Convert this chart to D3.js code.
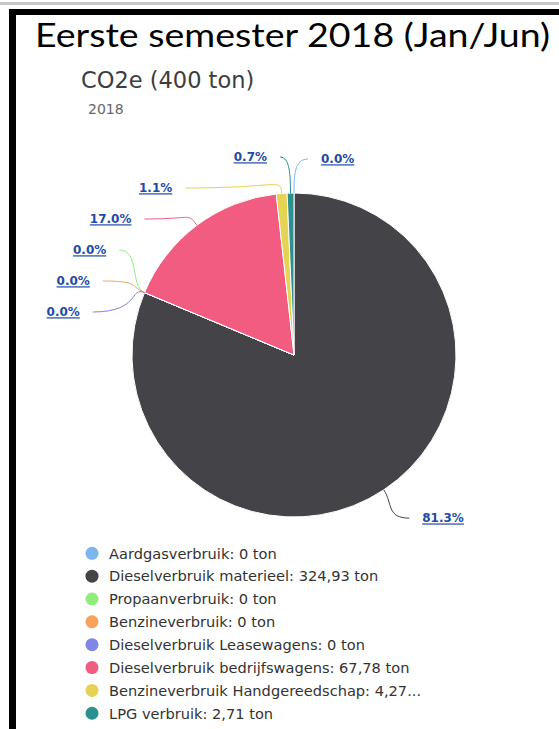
<!DOCTYPE html>
<html>
<head>
<meta charset="utf-8">
<script src="https://cdn.jsdelivr.net/npm/d3@7"></script>
<style>
  body { margin: 0; background: #fff; }
  svg { display: block; }
</style>
</head>
<body>
<svg id="chart" width="559" height="729"></svg>
<script>
// data
const categories = [
  'Aardgasverbruik',
  'Dieselverbruik materieel',
  'Propaanverbruik',
  'Benzineverbruik',
  'Dieselverbruik Leasewagens',
  'Dieselverbruik bedrijfswagens',
  'Benzineverbruik Handgereedschap',
  'LPG verbruik'
];
const values = [0, 324.93, 0, 0, 0, 67.78, 4.27, 2.71];
const colors = ['#7cb5ec', '#434348', '#90ed7d', '#f7a35c', '#8085e9', '#f15c80', '#e4d354', '#2b908f'];
const pageTitle = 'Eerste semester 2018 (Jan/Jun)';
const chartTitle = 'CO2e (400 ton)';
const chartSubtitle = '2018';

const svg = d3.select('#chart');
const width = 559;

// frame around the screenshot
svg.append('rect').attr('x', 0).attr('y', 2).attr('width', width).attr('height', 3).attr('fill', '#c6c6c6');
svg.append('rect').attr('x', 9).attr('y', 9).attr('width', width - 9).attr('height', 6).attr('fill', '#000');
svg.append('rect').attr('x', 9).attr('y', 9).attr('width', 7).attr('height', 729).attr('fill', '#000');

svg.append('text')
  .attr('x', 35)
  .attr('y', 46.5)
  .attr('textLength', 515)
  .attr('lengthAdjust', 'spacingAndGlyphs')
  .style('font-family', 'Lato, "Open Sans", sans-serif')
  .style('font-size', '33px')
  .attr('fill', '#000')
  .text(pageTitle);

svg.append('text')
  .attr('x', 81)
  .attr('y', 88)
  .style('font-family', '"DejaVu Sans", sans-serif')
  .style('font-size', '22.5px')
  .attr('fill', '#3d3d3d')
  .text(chartTitle);

svg.append('text')
  .attr('x', 88)
  .attr('y', 114)
  .style('font-family', '"DejaVu Sans", sans-serif')
  .style('font-size', '14px')
  .attr('fill', '#666')
  .text(chartSubtitle);

// pie
const cx = 294, cy = 355, r = 162;
const total = d3.sum(values);
const pie = d3.pie().sort(null).value((d) => d)(values);
const arc = d3.arc().innerRadius(0).outerRadius(r);

const g = svg.append('g').attr('transform', `translate(${cx},${cy})`);
g.selectAll('path.slice')
  .data(pie)
  .enter()
  .append('path')
  .attr('class', 'slice')
  .attr('d', arc)
  .attr('fill', (d, i) => colors[i])
  .attr('stroke', '#fff')
  .attr('stroke-width', 1)
  .attr('stroke-linejoin', 'round');

// data labels, spread like highcharts does
const yDist = 196, xDist = 192, boxH = 31, gap = 13, labelOff = 27;
const minY = cy - r - 36, maxY = cy + r + 40;

const labels = pie.map((a, i) => {
  const mid = (a.startAngle + a.endAngle) / 2;
  return {
    i: i,
    mid: mid,
    left: mid > Math.PI,
    target: cy - Math.cos(mid) * yDist,
    text: (values[i] / total * 100).toFixed(1) + '%'
  };
});

function distribute(items) {
  let groups = items.map((it) => ({ members: [it] }));
  const place = (gr) => {
    const n = gr.members.length;
    let top = d3.mean(gr.members, (m) => m.target) - (n - 1) * boxH / 2;
    top = Math.max(minY, Math.min(maxY - (n - 1) * boxH, top));
    gr.top = top;
  };
  groups.forEach(place);
  let merged = true;
  while (merged) {
    merged = false;
    for (let k = 0; k < groups.length - 1; k++) {
      const a = groups[k], b = groups[k + 1];
      if (a.top + a.members.length * boxH > b.top) {
        a.members = a.members.concat(b.members);
        groups.splice(k + 1, 1);
        place(a);
        merged = true;
        break;
      }
    }
  }
  groups.forEach((gr) => gr.members.forEach((m, k) => (m.y = gr.top + k * boxH)));
}

const leftItems = labels.filter((d) => d.left).sort((a, b) => b.mid - a.mid || a.i - b.i);
const rightItems = labels.filter((d) => !d.left).sort((a, b) => a.mid - b.mid || a.i - b.i);
distribute(leftItems);
distribute(rightItems);

labels.forEach((d) => {
  const dy = d.y - cy;
  const dx = Math.abs(dy) < xDist ? Math.sqrt(xDist * xDist - dy * dy) : 0;
  const dir = d.left ? -1 : 1;
  d.x = cx + dir * (dx + labelOff);
  d.lx = d.x - dir * gap;
  d.ex = cx + Math.sin(d.mid) * r;
  d.ey = cy - Math.cos(d.mid) * r;
  d.dir = dir;
});

svg.selectAll('path.connector')
  .data(labels)
  .enter()
  .append('path')
  .attr('class', 'connector')
  .attr('fill', 'none')
  .attr('stroke', (d) => colors[d.i])
  .attr('stroke-width', 1)
  .attr('d', (d) => {
    const ox = Math.sin(d.mid) * 16, oy = -Math.cos(d.mid) * 16;
    return `M${d.lx},${d.y}C${d.ex + ox * 0.3},${d.y} ${d.ex + ox},${d.ey + oy} ${d.ex},${d.ey}`;
  });

svg.selectAll('text.dl')
  .data(labels)
  .enter()
  .append('text')
  .attr('class', 'dl')
  .attr('x', (d) => d.x)
  .attr('y', (d) => d.y)
  .attr('dy', '0.36em')
  .attr('text-anchor', (d) => (d.left ? 'end' : 'start'))
  .style('font-family', '"DejaVu Sans", Verdana, sans-serif')
  .style('font-size', '12px')
  .style('font-weight', 'bold')
  .style('text-decoration', 'underline')
  .attr('fill', '#1f4ba5')
  .text((d) => d.text);

// legend
const fmt = (v) => (v === 0 ? '0' : v.toFixed(2).replace('.', ','));
const legendY = 553.3, legendStep = 22.85, legendMax = 320;
const legend = svg.selectAll('g.legend')
  .data(categories)
  .enter()
  .append('g')
  .attr('class', 'legend')
  .attr('transform', (d, i) => `translate(0,${legendY + i * legendStep})`);

legend.append('circle')
  .attr('cx', 92)
  .attr('cy', 0)
  .attr('r', 6.5)
  .attr('fill', (d, i) => colors[i]);

legend.append('text')
  .attr('x', 109)
  .attr('y', 0)
  .attr('dy', '0.36em')
  .style('font-family', '"DejaVu Sans", Verdana, sans-serif')
  .style('font-size', '14.6px')
  .attr('fill', '#333')
  .text((d, i) => `${d}: ${fmt(values[i])} ton`)
  .each(function () {
    const t = d3.select(this);
    const full = t.text();
    if (this.getComputedTextLength() > legendMax) {
      let n = full.length;
      while (n > 0) {
        t.text(full.slice(0, n).trimEnd() + '...');
        if (this.getComputedTextLength() <= legendMax) break;
        n--;
      }
    }
  });
</script>
</body>
</html>
